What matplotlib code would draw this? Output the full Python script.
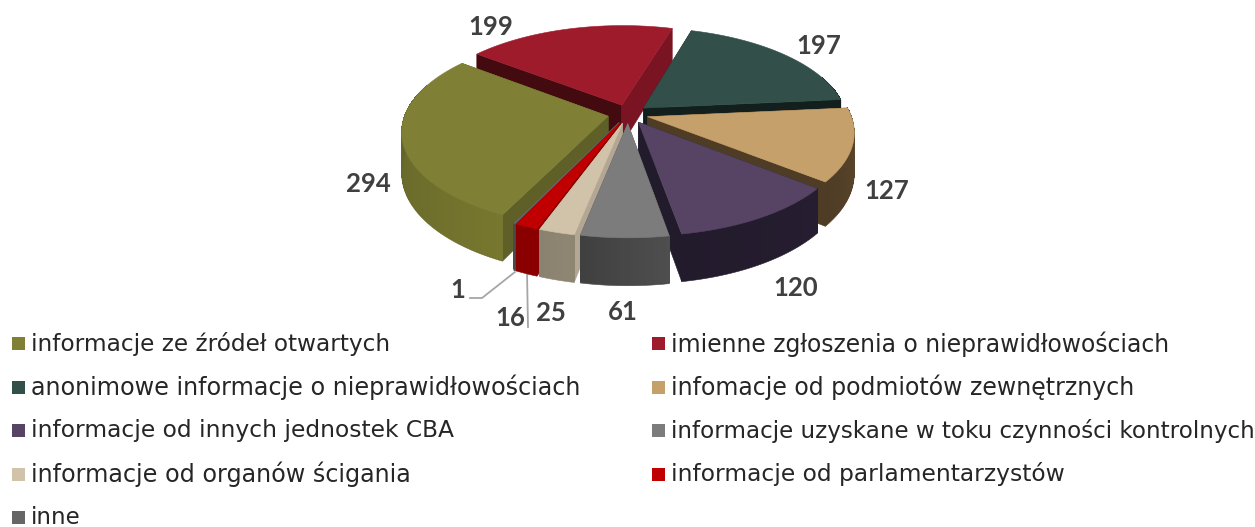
import numpy as np
import matplotlib
matplotlib.use("Agg")
import matplotlib.pyplot as plt
from matplotlib.patches import Polygon, Rectangle

categories = ["informacje ze źródeł otwartych", "imienne zgłoszenia o nieprawidłowościach",
              "anonimowe informacje o nieprawidłowościach", "infomacje od podmiotów zewnętrznych",
              "informacje od innych jednostek CBA", "informacje uzyskane w toku czynności kontrolnych",
              "informacje od organów ścigania", "informacje od parlamentarzystów", "inne"]
values = [294, 199, 197, 127, 120, 61, 25, 16, 1]

top_colors = ["#7f7f35", "#9e1b2c", "#334f4a", "#c6a06a", "#574465", "#7c7c7c", "#d1c2aa", "#c00000", "#666666"]
wall_a = ["#77772f", "#7a1422", "#121f1d", "#5e4a2e", "#261e30", "#4e4e4e", "#8f8672", "#8a0000", "#4a4a4a"]
wall_b = ["#5f5f28", "#7a1422", "#121f1d", "#4f3c25", "#221b2c", "#404040", "#8a8270", "#8a0000", "#4a4a4a"]
cut_colors = ["#5f5f28", "#430a10", "#121f1d", "#4f3c25", "#221b2c", "#505050", "#b3a793", "#8a0000", "#5a5a5a"]
right_cut_colors = ["#5f5f28", "#7a1422", "#121f1d", "#4f3c25", "#221b2c", "#505050", "#b3a793", "#8a0000", "#5a5a5a"]
legend_sizes = [16.75, 16.95, 17.2, 17.05, 16.8, 16.55, 17.2, 16.8, 16.6]

START = 205.8
EXPLODE = 0.10
CX, CY, R, B, K, D = 628.0, 114.0, 203.0, 94.0, 0.15, 40.0

fig = plt.figure(figsize=(12.55, 5.27), dpi=100)
ax = fig.add_axes([0, 0, 1, 1])
ax.set_xlim(0, 1255)
ax.set_ylim(527, 0)
ax.axis("off")


def project(u, v, z=0.0):
    s = 1.0 / (1.0 + K * v)
    return np.column_stack([CX + R * u * s, CY - B * v * s + z * D * s])


def face(p, c, z, aa=True):
    ax.add_patch(Polygon(p, closed=True, facecolor=c, edgecolor=c if aa else "none",
                         lw=0.4 if aa else 0, zorder=z, antialiased=aa))


def blend(a, b, t):
    ca, cb = np.array(matplotlib.colors.to_rgb(a)), np.array(matplotlib.colors.to_rgb(b))
    return tuple(ca + (cb - ca) * t)


vals = np.array(values, float)
edges = START + np.concatenate([[0], np.cumsum(vals)]) / vals.sum() * 360.0
order = []
for i in range(len(vals)):
    m = np.radians((edges[i] + edges[i + 1]) / 2)
    order.append((np.cos(m), i))
order.sort(key=lambda t: -t[0])

for rank, (_, i) in enumerate(order):
    a0, a1 = edges[i], edges[i + 1]
    m = np.radians((a0 + a1) / 2)
    ox, oy = EXPLODE * np.sin(m), EXPLODE * np.cos(m)
    th = np.radians(np.linspace(a0, a1, max(3, int(a1 - a0) + 2)))
    u = ox + np.sin(th)
    v = oy + np.cos(th)
    z = 10 + rank
    tip_t = project(np.array([ox]), np.array([oy]))[0]
    tip_b = project(np.array([ox]), np.array([oy]), 1)[0]
    top = project(u, v)
    bot = project(u, v, 1)
    for (pt, pb, col) in ((top[0], bot[0], cut_colors[i]), (top[-1], bot[-1], right_cut_colors[i])):
        face(np.array([tip_t, pt, pb, tip_b]), col, z)
    vis = np.cos(th) < 0.35
    if vis.sum() >= 2:
        vt, vb = top[vis], bot[vis]
        face(np.vstack([vt, vb[::-1]]), blend(wall_a[i], wall_b[i], 0.5), z + 0.1)
        inner = project(u, v, 0.97)[vis]
        n = len(vt) - 1
        for j in range(n):
            face(np.array([vt[j], vt[j + 1], inner[j + 1], inner[j]]),
                 blend(wall_a[i], wall_b[i], j / max(1, n - 1)), z + 0.2, aa=False)
    face(np.vstack([tip_t, top]), top_colors[i], z + 0.5)

# value labels
label_xy = [(368, 184), (491, 27), (819, 46), (887, 191), (796, 288), (623, 312), (551, 313), (510, 318), (458, 290)]
for val, (x, y) in zip(values, label_xy):
    ax.text(x, y, str(val), ha="center", va="center", fontsize=18.5, fontweight="bold",
            color="#404040", family="Lato", zorder=50)
ax.plot([470, 482, 515], [298, 298, 272], color="#a6a6a6", lw=1.3, zorder=5)
ax.plot([527, 528], [272, 327], color="#a6a6a6", lw=1.3, zorder=5)

# legend
col_x = [12, 652]
row_y = [344, 387.5, 431, 474.5, 518]
for k, (name, c) in enumerate(zip(categories, top_colors)):
    x, y = col_x[k % 2], row_y[k // 2]
    ax.add_patch(Rectangle((x, y - 7), 13, 13, facecolor=c, edgecolor="none"))
    ax.text(x + 19, y, name, ha="left", va="center", fontsize=legend_sizes[k],
            color="#262626", family="DejaVu Sans")

fig.savefig("out.png", dpi=100)
